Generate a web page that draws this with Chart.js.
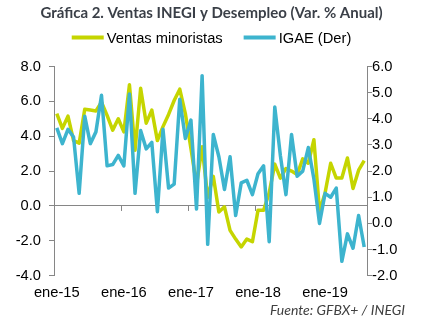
<!DOCTYPE html>
<html>
<head>
<meta charset="utf-8">
<script src="https://cdn.jsdelivr.net/npm/chart.js@4/dist/chart.umd.min.js"></script>
<style>
  html, body { margin: 0; padding: 0; background: #fff; }
  #wrap { width: 423px; height: 326px; }
</style>
</head>
<body>
<div id="wrap"><canvas id="chart" width="423" height="326"></canvas></div>
<script>
// Monthly categories, ene-15 .. ago-19
const monthNames = ['ene','feb','mar','abr','may','jun','jul','ago','sep','oct','nov','dic'];
const years = ['15','16','17','18','19'];
const months = [];
years.forEach(y => monthNames.forEach(m => months.push(m + '-' + y)));
const categories = months.slice(0, 56);

// Ventas minoristas (left axis, % anual)
const ventas = [
  5.3, 4.45, 5.15, 3.75, 3.6, 5.55, 5.5, 5.45, 5.95, 5.2, 4.35, 5.0,
  4.25, 6.95, 3.2, 6.75, 4.75, 5.5, 3.75, 4.55, 5.25, 6.05, 6.7, 5.3,
  3.3, 1.2, 3.4, 0.5, 1.7, -0.35, -0.05, -1.4, -1.9, -2.35, -1.9, -2.05,
  -0.25, -0.25, 0.75, 2.4, 1.6, 2.15, 2.0, 1.8, 2.7, 2.45, 3.8, -0.3,
  0.75, 2.45, 1.6, 1.6, 2.75, 1.0, 2.05, 2.6
];

// IGAE (right axis, % anual)
const igae = [
  3.65, 3.05, 3.6, 3.3, 1.15, 4.1, 3.05, 3.5, 4.9, 2.2, 2.25, 2.6,
  2.2, 4.95, 1.15, 3.55, 2.85, 3.1, 0.45, 3.6, 1.35, 1.5, 4.75, 3.25,
  3.95, 0.55, 5.65, -0.8, 3.4, 2.55, 1.3, 2.55, 0.3, 1.55, 1.65, 1.1,
  1.9, 2.2, -0.7, 4.45, 2.6, 1.1, 3.4, 1.8, 2.0, 2.9, 1.7, 0.0,
  1.15, 1.0, 1.35, -1.45, -0.4, -0.95, 0.3, -0.9
];

const leftTicks = { min: -4, max: 8, step: 2 };
const rightTicks = { min: -2, max: 6, step: 1 };

const axisGray = '#868686';
const textFont = 'Liberation Sans';

// legend drawn as line swatches, footer as source note
const extras = {
  id: 'extras',
  beforeDatasetsDraw(chart) {
    const ctx = chart.ctx;
    const x = chart.scales.x;
    const y0 = chart.scales.y.getPixelForValue(0);
    ctx.save();
    ctx.strokeStyle = axisGray;
    ctx.lineWidth = 1;
    for (let i = 12; i < categories.length; i += 12) {
      const px = Math.round((x.getPixelForValue(i - 1) + x.getPixelForValue(i)) / 2) + 0.5;
      ctx.beginPath();
      ctx.moveTo(px, y0);
      ctx.lineTo(px, y0 + 5);
      ctx.stroke();
    }
    ctx.restore();
  },
  afterDraw(chart) {
    const ctx = chart.ctx;
    ctx.save();
    ctx.font = '14.7px ' + textFont;
    ctx.textBaseline = 'middle';
    const sets = chart.data.datasets;
    const sw = 32, gapText = 3, gapItem = 21;
    const widths = sets.map(d => ctx.measureText(d.label).width);
    let total = 0;
    widths.forEach((w, i) => { total += sw + gapText + w + (i ? gapItem : 0); });
    let cx = chart.width / 2 - total / 2;
    const ly = 37.5;
    sets.forEach((d, i) => {
      ctx.strokeStyle = d.borderColor;
      ctx.lineWidth = 4;
      ctx.beginPath();
      ctx.moveTo(cx, ly);
      ctx.lineTo(cx + sw, ly);
      ctx.stroke();
      ctx.fillStyle = '#000';
      ctx.textAlign = 'left';
      ctx.fillText(d.label, cx + sw + gapText, ly + 1);
      cx += sw + gapText + widths[i] + gapItem;
    });
    ctx.font = 'italic 14px Lato';
    ctx.fillStyle = '#404040';
    ctx.textAlign = 'right';
    ctx.fillText('Fuente: GFBX+ / INEGI', 405, 310);
    ctx.restore();
  }
};

new Chart(document.getElementById('chart'), {
  type: 'line',
  data: {
    labels: categories,
    datasets: [
      {
        label: 'Ventas minoristas',
        data: ventas,
        yAxisID: 'y',
        borderColor: '#c5d500',
        backgroundColor: '#c5d500',
        borderWidth: 3.5,
        pointRadius: 0,
        tension: 0,
        borderJoinStyle: 'round',
        order: 1
      },
      {
        label: 'IGAE (Der)',
        data: igae,
        yAxisID: 'y1',
        borderColor: '#3db4ce',
        backgroundColor: '#3db4ce',
        borderWidth: 3.5,
        pointRadius: 0,
        tension: 0,
        borderJoinStyle: 'round',
        order: 0
      }
    ]
  },
  options: {
    responsive: false,
    animation: false,
    layout: { padding: { top: 0, left: 0, right: 0, bottom: 0 } },
    plugins: {
      legend: { display: false },
      tooltip: { enabled: false },
      title: {
        display: true,
        text: 'Gráfica 2. Ventas INEGI y Desempleo (Var. % Anual)',
        color: '#3a3f47',
        font: { family: 'Lato', size: 15, weight: 'bold', lineHeight: 1.2 },
        padding: { top: 4.5, bottom: 44 }
      }
    },
    scales: {
      x: {
        type: 'category',
        offset: true,
        grid: { display: false, drawTicks: false },
        border: { display: false },
        ticks: {
          autoSkip: false,
          maxRotation: 0,
          padding: 8,
          color: '#000',
          font: { family: textFont, size: 14.7 },
          callback: (v, i) => (i % 12 === 0 ? categories[i] : '')
        },
        afterFit: s => { s.height = 50.3; }
      },
      y: {
        position: 'left',
        min: leftTicks.min,
        max: leftTicks.max,
        border: { display: true, color: axisGray },
        grid: {
          color: c => (c.tick && c.tick.value === 0 ? axisGray : 'transparent'),
          tickColor: axisGray,
          tickLength: 5
        },
        ticks: {
          stepSize: leftTicks.step,
          padding: 8,
          color: '#000',
          font: { family: textFont, size: 14.7 },
          callback: v => v.toFixed(1)
        },
        afterFit: s => { s.width = 54; }
      },
      y1: {
        position: 'right',
        min: rightTicks.min,
        max: rightTicks.max,
        border: { display: true, color: axisGray },
        grid: { drawOnChartArea: false, tickColor: axisGray, tickLength: 5 },
        ticks: {
          stepSize: rightTicks.step,
          padding: 0,
          color: '#000',
          font: { family: textFont, size: 14.7 },
          callback: v => v.toFixed(1)
        },
        afterFit: s => { s.width = 56; }
      }
    }
  },
  plugins: [extras]
});
</script>
</body>
</html>
